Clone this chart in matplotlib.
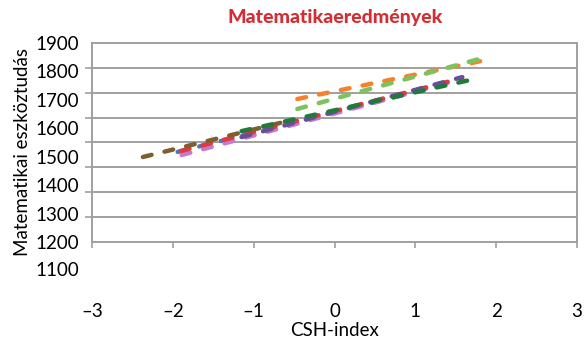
import numpy as np
import matplotlib
matplotlib.use("Agg")
import matplotlib.pyplot as plt

plt.rcParams['font.family'] = ['Lato', 'DejaVu Sans']

# trend lines by group: CSH-index range and fitted score at both ends
names = ["kék", "rózsaszín", "piros", "lila", "narancs", "világoszöld", "barna", "sötétzöld"]
colors = ["#4a78c4", "#c27ad2", "#e0393e", "#6a4f98", "#f5822a", "#7cc35f", "#7f5f30", "#217a3b"]
x_start = [-1.94, -1.89, -1.90, -1.15, -0.46, -0.46, -2.37, -1.15]
x_end = [1.49, 1.53, 1.58, 1.58, 1.94, 1.92, -0.67, 1.71]
y_start = [1517, 1506, 1520, 1569, 1703, 1668, 1499, 1590]
y_end = [1763, 1770, 1777, 1780, 1844, 1854, 1619, 1772]

x_ticks = [-3, -2, -1, 0, 1, 2, 3]
y_ticks = [1200, 1300, 1400, 1500, 1600, 1700, 1800, 1900]
grid_lines = np.linspace(1200, 1900, 9)

grey = "#a0a0a0"

fig = plt.figure(figsize=(5.87, 3.42), dpi=100)
ax = fig.add_axes([92 / 587, 1 - 242 / 342, 485 / 587, 199 / 342])

for i in range(len(names)):
    ax.plot([x_start[i], x_end[i]], [y_start[i], y_end[i]], color=colors[i],
            lw=3.2, dashes=(2, 3), dash_capstyle='round', zorder=3 + i)

ax.set_xlim(-3, 3)
ax.set_ylim(1200, 1900)
ax.set_xticks(x_ticks)
ax.set_xticklabels([str(v).replace("-", "\u2013") for v in x_ticks])
ax.set_yticks(y_ticks)
ax.set_yticks(grid_lines, minor=True)
ax.grid(True, axis='y', which='minor', color=grey, lw=1.4)
ax.tick_params(axis='y', which='major', length=0, pad=9, labelsize=13.5)
ax.tick_params(axis='y', which='minor', length=5, width=1.2, color=grey, direction='out')
ax.tick_params(axis='x', length=4, width=1.2, color=grey, pad=40, labelsize=13.5)
ax.annotate("1100", xy=(0, 1100), xycoords=ax.get_yaxis_transform(),
            xytext=(-9, 0), textcoords='offset points', ha='right', va='center',
            fontsize=13.5, annotation_clip=False)

for s in ax.spines.values():
    s.set_color(grey)
    s.set_linewidth(1.4)

ax.set_xlabel("CSH-index", fontsize=13.5)
ax.xaxis.set_label_coords(0.501, -0.40)
ax.set_ylabel("Matematikai eszköztudás", fontsize=13.5)
ax.yaxis.set_label_coords(-0.126, 0.452)

fig.text(335 / 587, 1 - 18 / 342, "Matematikaeredmények", color="#d42e34",
         fontsize=14, fontweight='black', ha='center', va='center')

fig.savefig("out.png", dpi=100)
